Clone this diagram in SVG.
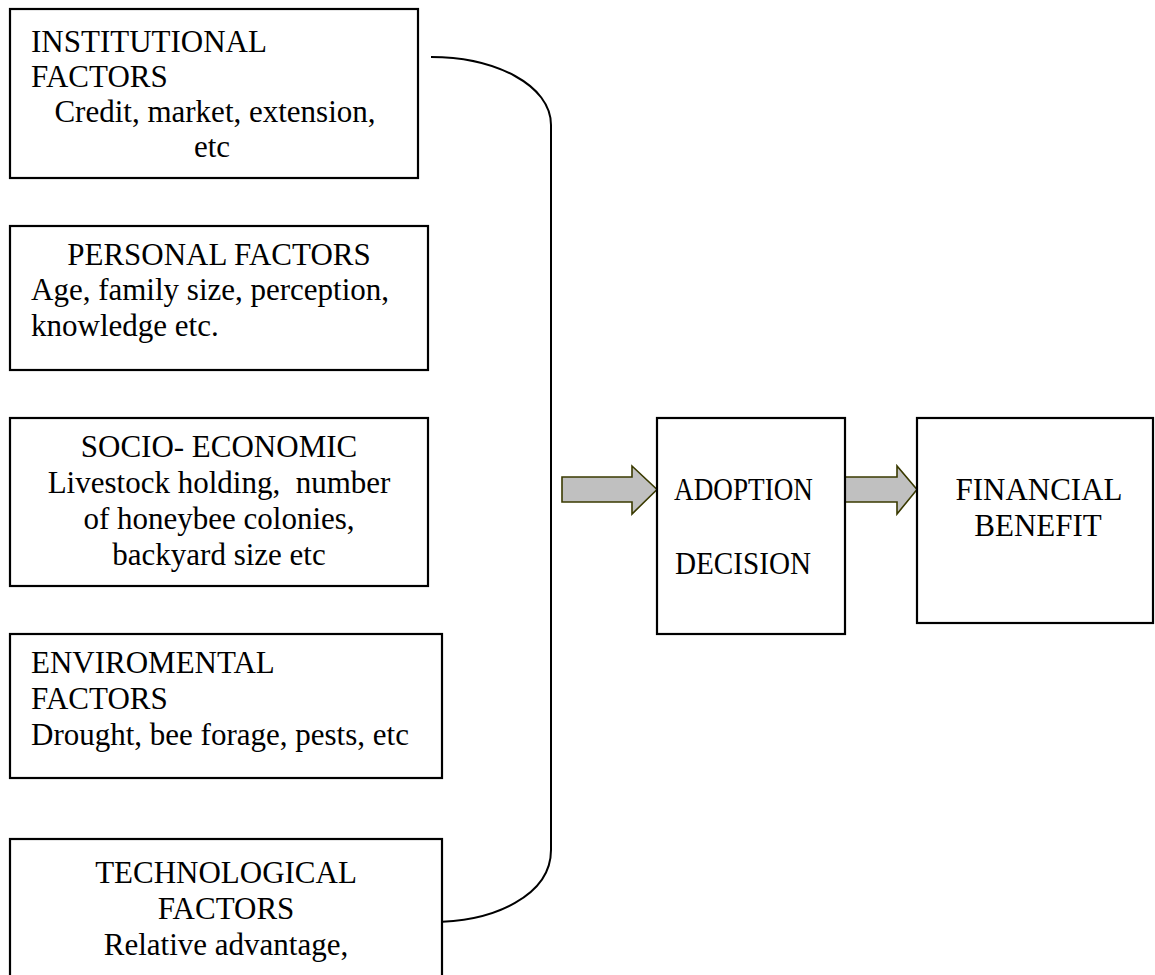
<svg xmlns="http://www.w3.org/2000/svg" width="1155" height="975" viewBox="0 0 1155 975">
<style>
.box{fill:#fff;stroke:#000;stroke-width:2.2}
text{font-family:"Liberation Serif","Times New Roman",serif;font-size:31px;fill:#000}
.c{text-anchor:middle}
.arr{fill:#c0c0c0;stroke:#3a3a00;stroke-width:1.6}
.con{fill:none;stroke:#000;stroke-width:2}
</style>
<rect width="1155" height="975" fill="#fff"/>
<g id="connectors">
<path class="con" d="M431,57 C495,57 551,85 551,125 L551,850 C551,895 495,922 431,922"/>
<polygon class="arr" points="562,477 632,477 632,466 657,489.5 632,514 632,502 562,502"/>
<polygon class="arr" points="845,477 897,477 897,466 917,489.5 897,514 897,502 845,502"/>
</g>
<g id="institutional">
<rect class="box" x="10" y="9" width="408" height="169"/>
<text x="31" y="52">INSTITUTIONAL</text>
<text x="31" y="87">FACTORS</text>
<text class="c" x="215" y="122">Credit, market, extension,</text>
<text class="c" x="212" y="157">etc</text>
</g>
<g id="personal">
<rect class="box" x="10" y="226" width="418" height="144"/>
<text class="c" x="219" y="265">PERSONAL FACTORS</text>
<text x="31" y="300">Age, family size, perception,</text>
<text x="31" y="336">knowledge etc.</text>
</g>
<g id="socio">
<rect class="box" x="10" y="418" width="418" height="168"/>
<text class="c" x="219" y="457">SOCIO- ECONOMIC</text>
<text class="c" x="219" y="493" xml:space="preserve">Livestock holding,  number</text>
<text class="c" x="219" y="529">of honeybee colonies,</text>
<text class="c" x="219" y="565">backyard size etc</text>
</g>
<g id="environmental">
<rect class="box" x="10" y="634" width="432" height="144"/>
<text x="31" y="673">ENVIROMENTAL</text>
<text x="31" y="709">FACTORS</text>
<text x="31" y="745">Drought, bee forage, pests, etc</text>
</g>
<g id="technological">
<rect class="box" x="10" y="839" width="432" height="150"/>
<text class="c" x="226" y="883">TECHNOLOGICAL</text>
<text class="c" x="226" y="919">FACTORS</text>
<text class="c" x="226" y="955">Relative advantage,</text>
</g>
<g id="adoption">
<rect class="box" x="657" y="418" width="188" height="216"/>
<text x="674" y="500" textLength="139" lengthAdjust="spacingAndGlyphs">ADOPTION</text>
<text x="675" y="574" textLength="136" lengthAdjust="spacingAndGlyphs">DECISION</text>
</g>
<g id="financial">
<rect class="box" x="917" y="418" width="236" height="205"/>
<text class="c" x="1039" y="500">FINANCIAL</text>
<text class="c" x="1038" y="536">BENEFIT</text>
</g>
</svg>
